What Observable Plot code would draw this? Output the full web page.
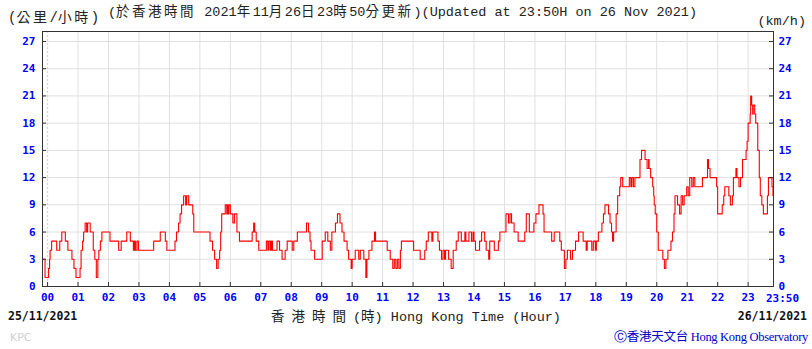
<!DOCTYPE html>
<html><head><meta charset="utf-8">
<script src="https://cdn.jsdelivr.net/npm/d3@7"></script>
<script src="https://cdn.jsdelivr.net/npm/@observablehq/plot@0.6"></script>
<style>
body{margin:0;background:#fff;}
#wrap{position:relative;width:812px;height:349px;overflow:hidden;background:#fff;}
.t{position:absolute;white-space:nowrap;line-height:1;color:#222;font-family:"Liberation Mono","Noto Sans CJK TC",monospace;}
.cjk{font-family:"Noto Sans CJK TC";letter-spacing:2.5px;}
</style></head><body><div id="wrap"></div>
<script>
// time in minutes from 00:00 on 26/11/2021 (step change points), and 10-min mean wind speed km/h
const minutes = [-10,-5,2,4,5,8,18,24,28,35,40,48,52,56,64,66,69,71,74,77,79,84,90,93,96,99,101,104,107,123,140,145,156,163,169,171,173,176,179,209,222,232,235,251,254,258,261,264,268,272,274,278,286,288,320,325,329,333,336,339,341,343,350,353,355,356,357,360,365,368,373,378,403,406,408,411,416,431,434,436,439,441,443,452,457,462,468,472,482,485,492,510,514,517,519,526,541,547,552,557,560,567,571,576,580,584,590,593,598,600,606,613,616,623,627,629,633,639,644,646,669,675,680,683,686,689,692,695,697,721,734,743,746,750,757,759,769,772,776,779,782,784,790,795,799,805,809,815,822,824,830,835,838,840,843,851,855,861,864,869,871,880,888,891,903,908,911,914,919,927,940,943,949,958,962,968,976,978,993,998,1009,1012,1018,1021,1024,1030,1034,1040,1046,1055,1061,1063,1072,1075,1079,1081,1085,1092,1095,1098,1105,1108,1111,1113,1115,1120,1123,1127,1129,1133,1146,1149,1151,1154,1157,1167,1170,1177,1181,1184,1185,1188,1192,1194,1195,1197,1200,1203,1212,1215,1218,1222,1228,1231,1234,1236,1241,1245,1248,1251,1254,1259,1262,1265,1269,1272,1275,1290,1300,1302,1305,1318,1320,1329,1332,1334,1342,1345,1349,1351,1356,1358,1362,1365,1369,1376,1378,1380,1384,1385,1387,1389,1390,1393,1395,1399,1402,1404,1407,1410,1418,1420,1427,1429,1430];
const speeds = [3,1,2,3,4,5,4,5,6,5,4,3,2,1,2,4,5,6,7,6,7,6,4,3,1,3,4,5,6,5,4,5,6,5,4,5,4,5,4,5,6,5,4,5,6,7,8,9,10,9,10,9,8,6,5,4,3,2,3,4,6,8,9,8,9,8,9,8,7,8,6,5,6,7,6,5,4,5,4,5,4,5,4,5,4,3,4,5,4,5,6,7,6,5,4,3,5,6,5,4,6,7,8,7,6,5,4,3,2,3,4,3,4,3,1,3,4,5,6,5,4,3,2,3,2,3,2,4,5,4,3,4,5,6,5,6,5,4,3,4,3,4,3,2,4,5,6,5,6,5,6,5,6,5,4,5,6,5,4,3,5,4,5,6,8,7,8,7,6,5,6,8,6,7,8,9,8,6,5,6,5,4,2,3,4,3,4,5,6,5,4,5,4,5,4,5,6,7,8,9,8,7,6,5,6,8,10,11,12,11,12,11,12,11,12,14,15,14,13,14,13,12,11,10,9,8,6,4,3,2,3,4,5,6,8,10,9,8,10,9,10,11,10,12,11,12,11,12,14,13,12,11,8,9,10,11,10,9,10,12,13,12,11,12,14,15,16,18,19,21,20,19,20,19,18,15,12,10,9,8,10,12,11,10,10];
const hourTicks = [0,60,120,180,240,300,360,420,480,540,600,660,720,780,840,900,960,1020,1080,1140,1200,1260,1320,1380];
const hourLabels = ["00","01","02","03","04","05","06","07","08","09","10","11","12","13","14","15","16","17","18","19","20","21","22","23"];
const endTick = [1430];
const endLabel = "23:50";
const speedTicks = [0,3,6,9,12,15,18,21,24,27];

const data = minutes.map((t, i) => ({t, v: speeds[i]}));
const W = 812, H = 349, mL = 42, mR = 39, mT = 31, mB = 63;
const plotW = W - mL - mR, plotH = H - mT - mB;
const blue = "#0000ff";
const axisFont = {fill: blue, fontWeight: "bold", fontSize: 11, fontFamily: "DejaVu Sans Mono"};

const chart = Plot.plot({
  width: W, height: H,
  marginLeft: mL, marginRight: mR, marginTop: mT, marginBottom: mB,
  x: {domain: [-10, 1430]},
  y: {domain: [0, 28.1]},
  style: {background: "transparent"},
  marks: [
    Plot.gridY({ticks: speedTicks, stroke: "#e0e0e0", strokeOpacity: 1}),
    Plot.gridX({ticks: hourTicks.slice(1), stroke: "#e0e0e0", strokeOpacity: 1}),
    Plot.ruleX(hourTicks.slice(0, 1), {stroke: "#cfcfcf", strokeDasharray: "2,2"}),
    Plot.line(data, {x: "t", y: "v", curve: "step-after", stroke: "#ff0000", strokeWidth: 1.1}),
    Plot.tickY(speedTicks, {y: d => d, insetRight: plotW - 4, stroke: "#333"}),
    Plot.tickY(speedTicks, {y: d => d, insetLeft: plotW - 4, stroke: "#333"}),
    Plot.tickX(hourTicks, {x: d => d, insetTop: plotH - 4, stroke: "#333"}),
    Plot.frame({stroke: "#333"}),
    Plot.axisY({ticks: speedTicks, anchor: "left", tickSize: 0, tickPadding: 7, label: null, ...axisFont}),
    Plot.axisY({ticks: speedTicks, anchor: "right", tickSize: 0, tickPadding: 5, label: null, ...axisFont}),
    Plot.axisX({ticks: hourTicks, anchor: "bottom", tickSize: 0, tickPadding: 7, label: null,
      tickFormat: d => hourLabels[hourTicks.indexOf(d)], ...axisFont}),
    Plot.axisX({ticks: endTick, anchor: "bottom", tickSize: 0, tickPadding: 8, label: null, dx: 9,
      tickFormat: () => endLabel, ...axisFont})
  ]
});
const wrap = document.getElementById("wrap");
wrap.appendChild(chart);
chart.style.position = "absolute";
chart.style.left = "0px";
chart.style.top = "0px";

function addText(html, css) {
  const d = document.createElement("div");
  d.className = "t";
  d.innerHTML = html;
  Object.assign(d.style, css);
  wrap.appendChild(d);
}
addText('(<span class="cjk">公里</span>/<span class="cjk">小時</span>)', {left: "8px", top: "9px", fontSize: "14px"});
addText('(<span class="cjk">於香港時間</span> 2021<span class="cjk">年</span>11<span class="cjk">月</span>26<span class="cjk">日</span>23<span class="cjk">時</span>50<span class="cjk">分更新</span>)(Updated at 23:50H on 26 Nov 2021)', {left: "108px", top: "4px", fontSize: "13.5px"});
addText('(km/h)', {right: "6px", top: "15px", fontSize: "13.5px"});
addText('25/11/2021', {left: "8px", top: "311px", fontSize: "11.5px", fontWeight: "bold", fontFamily: "DejaVu Sans Mono", color: "#111"});
addText('26/11/2021', {right: "5px", top: "311px", fontSize: "11.5px", fontWeight: "bold", fontFamily: "DejaVu Sans Mono", color: "#111"});
addText('<span class="cjk" style="letter-spacing:7px">香港時間</span>(<span class="cjk" style="letter-spacing:0">時</span>) Hong Kong Time (Hour)', {left: "271px", top: "309px", fontSize: "13.5px"});
addText('Ⓒ<span style="font-family:\'Noto Sans CJK TC\'">香港天文台</span> Hong Kong Observatory', {right: "4px", top: "330px", fontSize: "12.5px", fontFamily: "Liberation Serif", color: "#0000cc", letterSpacing: "-0.3px"});
addText('KPC', {left: "10px", top: "332px", fontSize: "11px", fontFamily: "DejaVu Sans", color: "#d0d0d0"});
</script></body></html>
